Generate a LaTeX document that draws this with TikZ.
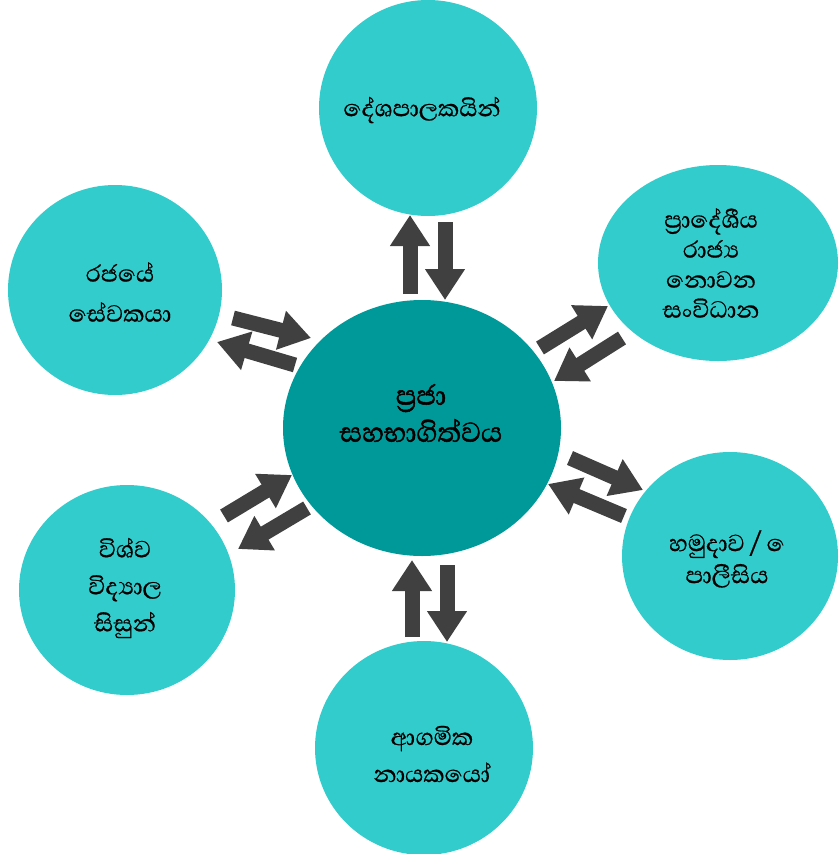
\documentclass[tikz,border=0pt]{standalone}
\usepackage{fontspec}
\newfontfamily\sinhalafont[Script=Sinhala, FakeBold=0.6]{Abhaya Libre}
\newfontfamily\sinhalahub[Script=Sinhala, FakeBold=1.5]{Abhaya Libre}
\usetikzlibrary{shapes.geometric,arrows.meta}
\definecolor{light}{HTML}{33CCCC}
\definecolor{dark}{HTML}{009999}
\definecolor{arrowgray}{HTML}{404040}
\newcommand{\loneE}{\XeTeXglyph\XeTeXcharglyph"0DD9\relax}
\begin{document}
\begin{tikzpicture}[x=1pt,y=-1pt,
  bubble/.style={ellipse, fill=light, inner sep=0pt, align=center},
  hub/.style={ellipse, fill=dark, inner sep=0pt, align=center},
  arr/.style={draw=arrowgray, line width=15pt, -{Triangle[length=31pt,width=38pt]}}]
\useasboundingbox (0,0) rectangle (838,854);
\fill[white] (0,0) rectangle (838,854);
% circles
\node[hub, minimum width=278pt, minimum height=256pt] (hub) at (422,428) {};
\node[bubble, minimum width=218pt, minimum height=216pt] (top) at (428,108) {};
\node[bubble, minimum width=240pt, minimum height=196pt] (tr) at (718,263) {};
\node[bubble, minimum width=214pt, minimum height=210pt] (left) at (115,290) {};
\node[bubble, minimum width=216pt, minimum height=208pt] (right) at (730,556) {};
\node[bubble, minimum width=216pt, minimum height=210pt] (bl) at (127,590) {};
\node[bubble, minimum width=218pt, minimum height=214pt] (bot) at (424,748) {};
% texts
\node[font=\sinhalafont\fontsize{30}{33}\selectfont] (ttop) at (422,110) {දේශපාලකයින්};
\node[font=\sinhalafont\fontsize{30}{30}\selectfont, align=center] (ttr) at (711,263) {ප්‍රාදේශීය\\රාජ්‍ය\\නොවන\\සංවිධාන};
\node[font=\sinhalafont\fontsize{30}{40}\selectfont, align=center] (tleft) at (120,292) {රජයේ\\සේවකයා};
\node[font=\sinhalahub\fontsize{35}{37}\selectfont, align=center] (thub) at (421,413) {ප්‍රජා\\සහභාගිත්වය};
\node[font=\sinhalafont\fontsize{30}{32}\selectfont, align=center] (tright) at (727,559) {හමුදාව\,/\,\loneE\\පාලීසිය};
\node[font=\sinhalafont\fontsize{30}{37}\selectfont, align=center] (tbl) at (125,588) {විශ්ව\\විද්‍යාල\\සිසුන්};
\node[font=\sinhalafont\fontsize{30}{37}\selectfont, align=center] (tbot) at (432,754) {ආගමික\\නායකයෝ};
% arrow end points
\coordinate (t1a) at (410,294); \coordinate (t1b) at (410,215);
\coordinate (t2a) at (445,222); \coordinate (t2b) at (445,300);
\coordinate (b1a) at (412,637); \coordinate (b1b) at (412,560);
\coordinate (b2a) at (447,565); \coordinate (b2b) at (447,642);
\coordinate (l1a) at (233,318); \coordinate (l1b) at (311,338);
\coordinate (l2a) at (295,365); \coordinate (l2b) at (217,342);
\coordinate (r1a) at (540,348); \coordinate (r1b) at (608,306);
\coordinate (r2a) at (622,338); \coordinate (r2b) at (554,381);
\coordinate (s1a) at (570,458); \coordinate (s1b) at (643,490);
\coordinate (s2a) at (624,516); \coordinate (s2b) at (548,484);
\coordinate (w1a) at (224,516); \coordinate (w1b) at (292,475);
\coordinate (w2a) at (307,508); \coordinate (w2b) at (238,549);
\foreach \p in {t1,t2,b1,b2,l1,l2,r1,r2,s1,s2,w1,w2}
  \draw[arr] (\p a) -- (\p b);
\end{tikzpicture}
\end{document}
